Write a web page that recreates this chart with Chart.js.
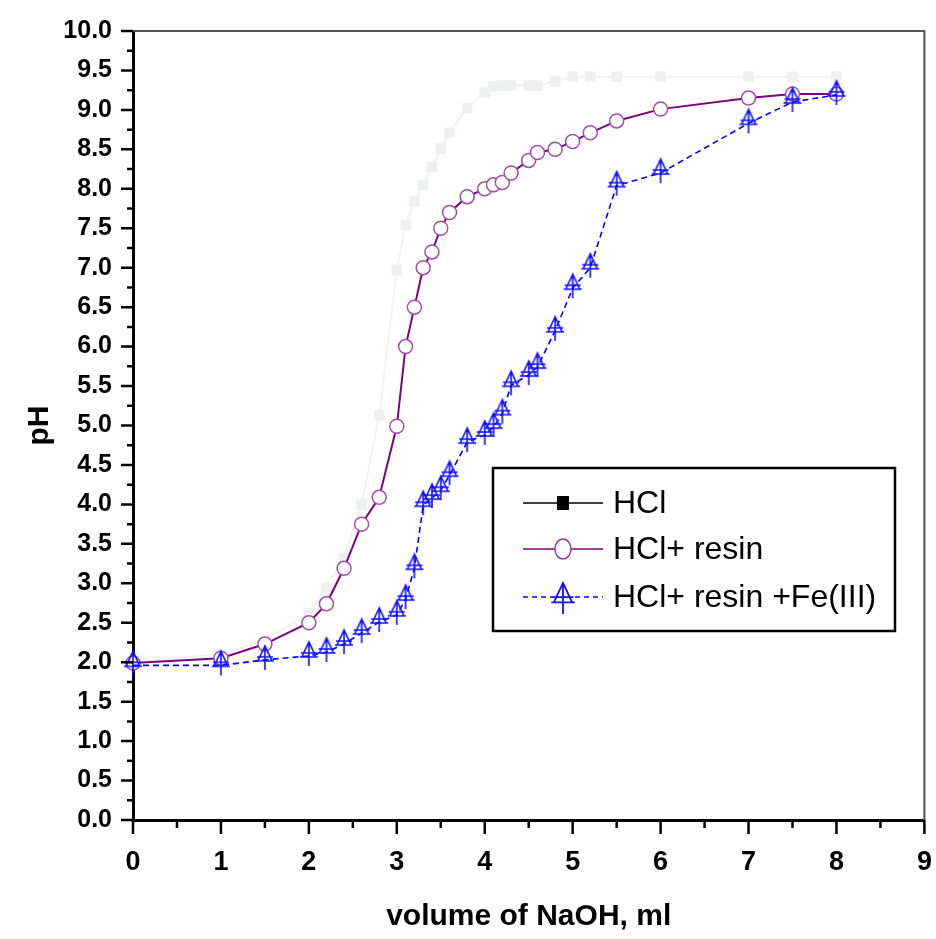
<!DOCTYPE html>
<html>
<head>
<meta charset="utf-8">
<script src="https://cdn.jsdelivr.net/npm/chart.js@4.4.1/dist/chart.umd.min.js"></script>
<style>
  html, body { margin: 0; padding: 0; background: #fff; overflow: hidden; }
  #wrap { width: 936px; height: 939px; }
</style>
</head>
<body>
<div id="wrap"><canvas id="c"></canvas></div>
<script>
const FONT = "'Liberation Sans', Arial, sans-serif";

// volume of NaOH (ml) — same points for every series
const volume = [0, 1, 1.5, 2, 2.2, 2.4, 2.6, 2.8, 3.0, 3.1, 3.2, 3.3, 3.4, 3.5, 3.6, 3.8,
  4.0, 4.1, 4.2, 4.3, 4.5, 4.6, 4.8, 5.0, 5.2, 5.5, 6.0, 7.0, 7.5, 8.0];

const phHCl = [2.0, 2.1, 2.28, 2.62, 2.95, 3.32, 4.0, 5.13, 6.97, 7.54, 7.84, 8.05, 8.28, 8.51, 8.71, 9.02,
  9.22, 9.3, 9.31, 9.31, 9.31, 9.31, 9.36, 9.42, 9.42, 9.42, 9.42, 9.42, 9.42, 9.42];

const phResin = [1.99, 2.05, 2.23, 2.5, 2.74, 3.19, 3.75, 4.09, 4.99, 6.0, 6.5, 7.0, 7.2, 7.5, 7.7, 7.9,
  8.0, 8.05, 8.08, 8.2, 8.36, 8.46, 8.5, 8.6, 8.71, 8.86, 9.01, 9.15, 9.2, 9.2];

const phResinFe = [1.96, 1.96, 2.03, 2.08, 2.13, 2.23, 2.37, 2.51, 2.6, 2.8, 3.19, 3.99, 4.08, 4.18, 4.37, 4.79,
  4.88, 4.98, 5.15, 5.51, 5.64, 5.74, 6.2, 6.74, 7.0, 8.04, 8.2, 8.83, 9.1, 9.19];

const seriesNames = ["HCl", "HCl+ resin", "HCl+ resin +Fe(III)"];

const pts = (ys) => volume.map((x, i) => ({ x, y: ys[i] }));

// triangle-with-cross symbol (Origin style)
function triGlyph(ctx, cx, cy, s) {
  ctx.beginPath();
  ctx.moveTo(cx, cy - 14 * s);
  ctx.lineTo(cx - 7 * s, cy + 1 * s);
  ctx.lineTo(cx + 7 * s, cy + 1 * s);
  ctx.closePath();
  ctx.moveTo(cx - 9 * s, cy + 1 * s); ctx.lineTo(cx + 9 * s, cy + 1 * s);
  ctx.moveTo(cx - 8 * s, cy - 3 * s); ctx.lineTo(cx + 8 * s, cy - 3 * s);
  ctx.moveTo(cx, cy - 14 * s); ctx.lineTo(cx, cy + 10 * s);
  ctx.stroke();
}
function triCanvas(s) {
  const c = document.createElement("canvas");
  c.width = Math.ceil(22 * s); c.height = Math.ceil(32 * s);
  const g = c.getContext("2d");
  g.strokeStyle = "#1010ff"; g.lineWidth = 1.6;
  triGlyph(g, c.width / 2, c.height / 2, s);
  return c;
}
const triMark = triCanvas(1);

const ticksAndFrame = {
  id: "ticksAndFrame",
  afterDraw(chart) {
    const { ctx, chartArea: a, scales: { x, y } } = chart;
    ctx.save();
    ctx.strokeStyle = "#555"; ctx.lineWidth = 2;
    ctx.beginPath();
    ctx.moveTo(a.left, a.top); ctx.lineTo(a.right, a.top); ctx.lineTo(a.right, a.bottom);
    ctx.stroke();

    ctx.strokeStyle = "#000"; ctx.lineWidth = 2.5;
    ctx.beginPath();
    for (let i = 0; i <= 40; i++) {
      const py = y.getPixelForValue(i * 0.25);
      const len = i % 2 === 0 ? 12 : 6;
      ctx.moveTo(a.left, py); ctx.lineTo(a.left - len, py);
    }
    for (let i = 0; i <= 18; i++) {
      const px = x.getPixelForValue(i * 0.5);
      const len = i % 2 === 0 ? 14 : 8;
      ctx.moveTo(px, a.bottom); ctx.lineTo(px, a.bottom + len);
    }
    ctx.stroke();

    // legend
    const L = 493, T = 468, R = 895, B = 631;
    ctx.fillStyle = "#fff";
    ctx.fillRect(L, T, R - L, B - T);
    ctx.strokeStyle = "#000"; ctx.lineWidth = 2.5;
    ctx.strokeRect(L, T, R - L, B - T);
    const rows = [503, 549, 597];
    const x0 = 523, x1 = 603, mx = 563;
    ctx.lineWidth = 1.5;
    // HCl
    ctx.strokeStyle = "#000"; ctx.setLineDash([]);
    ctx.beginPath(); ctx.moveTo(x0, rows[0]); ctx.lineTo(x1, rows[0]); ctx.stroke();
    ctx.fillStyle = "#000"; ctx.fillRect(mx - 6, rows[0] - 7, 12, 14);
    // resin
    ctx.strokeStyle = "#800080";
    ctx.beginPath(); ctx.moveTo(x0, rows[1]); ctx.lineTo(x1, rows[1]); ctx.stroke();
    ctx.fillStyle = "#fff";
    ctx.beginPath(); ctx.ellipse(mx, rows[1], 8, 10, 0, 0, Math.PI * 2); ctx.fill();
    ctx.strokeStyle = "#9a3c9a"; ctx.stroke();
    // Fe
    ctx.strokeStyle = "#0000ff"; ctx.setLineDash([5, 4]);
    ctx.beginPath(); ctx.moveTo(x0, rows[2]); ctx.lineTo(mx - 10, rows[2]); ctx.moveTo(mx + 12, rows[2]); ctx.lineTo(x1, rows[2]); ctx.stroke();
    ctx.setLineDash([]);
    ctx.strokeStyle = "#1010ff"; ctx.lineWidth = 1.8;
    triGlyph(ctx, mx, rows[2] + 4, 1.3);

    ctx.fillStyle = "#000";
    ctx.font = "32px " + FONT;
    ctx.textBaseline = "middle"; ctx.textAlign = "left";
    seriesNames.forEach((n, i) => ctx.fillText(n, 613, rows[i] + 1));
    ctx.restore();
  }
};

const chart = new Chart(document.getElementById("c"), {
  type: "line",
  data: {
    datasets: [
      {
        label: seriesNames[0], data: pts(phHCl), order: 3,
        borderColor: "#f2f2f2", borderWidth: 2,
        pointStyle: "rect", pointRadius: 6, pointBackgroundColor: "#eef0f0", pointBorderColor: "#eef0f0"
      },
      {
        label: seriesNames[1], data: pts(phResin), order: 2,
        borderColor: "#800080", borderWidth: 2,
        pointStyle: "circle", pointRadius: 7, pointBorderWidth: 1.5,
        pointBackgroundColor: "#fff", pointBorderColor: "#a050a8"
      },
      {
        label: seriesNames[2], data: pts(phResinFe), order: 1,
        borderColor: "#0000ff", borderWidth: 1.6, borderDash: [6, 4],
        pointStyle: triMark, pointRadius: 10
      }
    ]
  },
  options: {
    responsive: true, maintainAspectRatio: false, animation: false,
    clip: false,
    layout: { padding: { left: 0, right: 8, top: 31, bottom: 0 } },
    plugins: { legend: { display: false }, tooltip: { enabled: false } },
    elements: { line: { tension: 0 } },
    scales: {
      x: {
        type: "linear", min: 0, max: 9,
        grid: { display: false },
        border: { display: true, color: "#000", width: 3 },
        ticks: { stepSize: 1, padding: 18, color: "#000", font: { family: FONT, size: 27, weight: "bold" } },
        title: { display: true, text: "volume of NaOH, ml", color: "#000", padding: { top: 0, bottom: 4 },
          font: { family: FONT, size: 30, weight: "bold" } },
        afterFit: (s) => { s.height = 119; s.paddingLeft = 0; s.paddingRight = 0; }
      },
      y: {
        min: 0, max: 10,
        grid: { display: false },
        border: { display: true, color: "#000", width: 3 },
        ticks: { stepSize: 0.5, padding: 13, color: "#000", callback: (v) => v.toFixed(1),
          font: { family: FONT, size: 25, weight: "bold" } },
        title: { display: true, text: "pH", color: "#000", padding: { top: 22, bottom: 0 },
          font: { family: FONT, size: 30, weight: "bold" } },
        afterFit: (s) => { s.width = 133; s.paddingTop = 0; s.paddingBottom = 0; }
      }
    }
  },
  plugins: [ticksAndFrame]
});

// nudge the plot area so its right edge sits at x = 928
const dr = chart.chartArea.right - 928;
if (Math.abs(dr) > 0.5) {
  chart.options.layout.padding.right += dr;
  chart.update();
}
</script>
</body>
</html>
